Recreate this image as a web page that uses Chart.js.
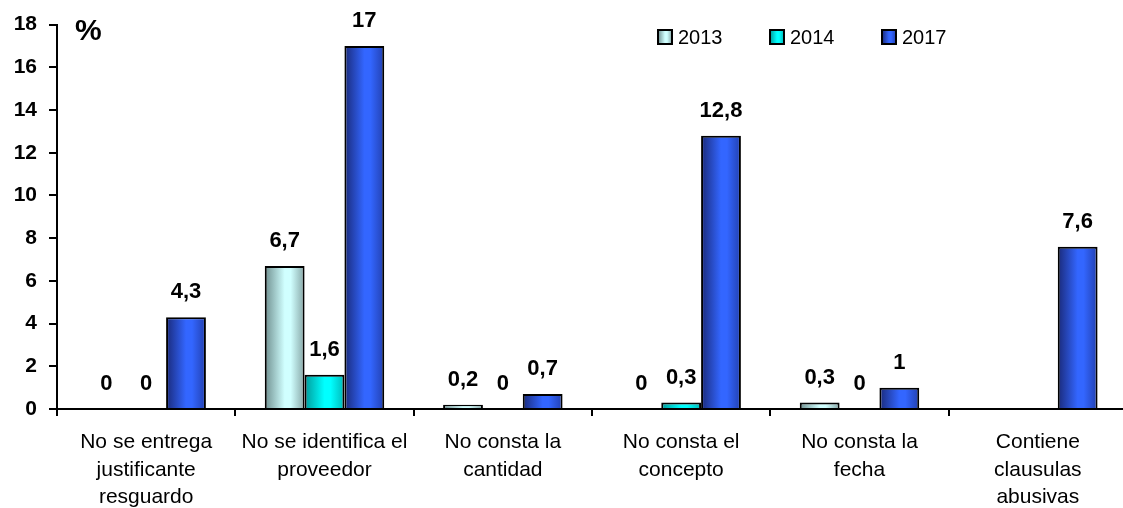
<!DOCTYPE html>
<html>
<head>
<meta charset="utf-8">
<script src="https://cdn.jsdelivr.net/npm/chart.js@4.4.1/dist/chart.umd.min.js"></script>
<style>
  html, body { margin: 0; padding: 0; background: #fff; overflow: hidden; }
  #wrap { width: 1128px; height: 508px; }
</style>
</head>
<body>
<div id="wrap"><canvas id="chart" width="1128" height="508"></canvas></div>
<script>
// categories and values
var categories = [
  ["No se entrega", "justificante", "resguardo"],
  ["No se identifica el", "proveedor"],
  ["No consta la", "cantidad"],
  ["No consta el", "concepto"],
  ["No consta la", "fecha"],
  ["Contiene", "clausulas", "abusivas"]
];
var years = ["2013", "2014", "2017"];
var values2013 = [0, 6.7, 0.2, 0, 0.3, null];
var values2014 = [0, 1.6, 0, 0.3, 0, null];
var values2017 = [4.3, 17, 0.7, 12.8, 1, 7.6];
var yTicks = [0, 2, 4, 6, 8, 10, 12, 14, 16, 18];

var FONT = "'Liberation Sans', Arial, sans-serif";
var catPct = 0.67;

// dark edge / light middle / right edge, per series
var shades = [
  ["#6f8f8f", "#d0ffff", "#86a6a6"],
  ["#009a9a", "#00ffff", "#00b8b8"],
  ["#1a2a7a", "#3366ff", "#2240b0"]
];

function grad(ctx, x0, x1, s) {
  var g = ctx.createLinearGradient(x0, 0, x1, 0);
  g.addColorStop(0, s[0]);
  g.addColorStop(0.5, s[1]);
  g.addColorStop(0.65, s[1]);
  g.addColorStop(1, s[2]);
  return g;
}

function barFill(c) {
  var chart = c.chart, xs = chart.scales.x;
  var s = shades[c.datasetIndex];
  if (!xs || !chart.chartArea) return s[1];
  var w = (xs.width / categories.length) * catPct / 3;
  var cx = xs.getPixelForValue(c.dataIndex) + (c.datasetIndex - 1) * w;
  return grad(chart.ctx, cx - w / 2, cx + w / 2, s);
}

function makeSet(i, data) {
  return {
    label: years[i],
    data: data,
    categoryPercentage: catPct,
    barPercentage: 1,
    backgroundColor: barFill,
    borderColor: "#000",
    borderWidth: 2,
    borderSkipped: "bottom"
  };
}

var extras = {
  id: "extras",
  afterDatasetsDraw: function (chart) {
    var ctx = chart.ctx;
    ctx.save();
    // value labels
    ctx.fillStyle = "#000";
    ctx.font = "bold 22px " + FONT;
    ctx.textAlign = "center";
    ctx.textBaseline = "alphabetic";
    chart.data.datasets.forEach(function (ds, i) {
      chart.getDatasetMeta(i).data.forEach(function (el, j) {
        var v = ds.data[j];
        if (v === null) return;
        ctx.fillText(String(v).replace(".", ","), el.x, el.y - 19);
      });
    });
    // % sign
    ctx.font = "bold 30px " + FONT;
    ctx.textAlign = "left";
    ctx.fillText("%", 75, 40);
    // legend
    var lx = [658, 770, 882];
    ctx.font = "20px " + FONT;
    ctx.textBaseline = "middle";
    years.forEach(function (y, i) {
      ctx.fillStyle = grad(ctx, lx[i], lx[i] + 14, shades[i]);
      ctx.fillRect(lx[i], 30, 14, 14);
      ctx.lineWidth = 2;
      ctx.strokeStyle = "#000";
      ctx.strokeRect(lx[i], 30, 14, 14);
      ctx.fillStyle = "#000";
      ctx.fillText(y, lx[i] + 20, 38);
    });
    ctx.restore();
  }
};

new Chart(document.getElementById("chart"), {
  type: "bar",
  data: {
    labels: categories,
    datasets: [
      makeSet(0, values2013),
      makeSet(1, values2014),
      makeSet(2, values2017)
    ]
  },
  options: {
    responsive: false,
    animation: false,
    layout: { padding: { top: 24, right: 1, bottom: 0, left: 0 } },
    plugins: {
      colors: { enabled: false },
      legend: { display: false },
      tooltip: { enabled: false }
    },
    scales: {
      x: {
        afterFit: function (s) { s.height = 99; },
        grid: {
          offset: true,
          drawOnChartArea: false,
          drawTicks: true,
          tickLength: 7,
          color: "#000",
          lineWidth: 2
        },
        border: { display: true, color: "#000", width: 2 },
        ticks: {
          color: "#000",
          padding: 13,
          maxRotation: 0,
          autoSkip: false,
          font: { family: FONT, size: 21, lineHeight: 1.3 }
        }
      },
      y: {
        min: 0,
        max: 18,
        afterFit: function (s) { s.width = 57; },
        afterBuildTicks: function (s) {
          s.ticks = yTicks.map(function (v) { return { value: v }; });
        },
        grid: {
          drawOnChartArea: false,
          drawTicks: true,
          tickLength: 8,
          color: "#000",
          lineWidth: 2
        },
        border: { display: true, color: "#000", width: 2 },
        ticks: {
          color: "#000",
          padding: 12,
          font: { family: FONT, size: 21, weight: "bold" }
        }
      }
    }
  },
  plugins: [extras]
});
</script>
</body>
</html>
